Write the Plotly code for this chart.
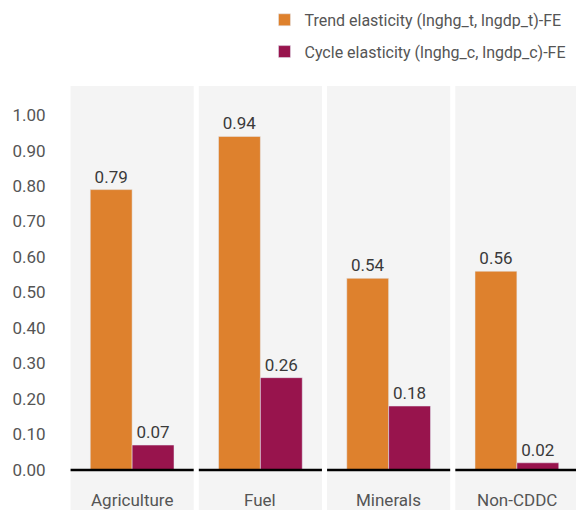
import plotly.graph_objects as go

categories = ["Agriculture", "Fuel", "Minerals", "Non-CDDC"]
trend = [0.79, 0.94, 0.54, 0.56]
cycle = [0.07, 0.26, 0.18, 0.02]
series_names = ["Trend elasticity (lnghg_t, lngdp_t)-FE", "Cycle elasticity (lnghg_c, lngdp_c)-FE"]
y_ticks = [0.0, 0.1, 0.2, 0.3, 0.4, 0.5, 0.6, 0.7, 0.8, 0.9, 1.0]

FONT = "Roboto, sans-serif"
ORANGE = "#DE812D"
PURPLE = "#98144D"

fig = go.Figure()
fig.add_trace(go.Bar(x=categories, y=trend, name=series_names[0], marker_color=ORANGE,
                     text=[f"{v:.2f}" for v in trend], textposition="outside",
                     textfont=dict(size=17, color="#3a3a3a"), cliponaxis=False,
                     legendgroup="a"))
fig.add_trace(go.Bar(x=categories, y=cycle, name=series_names[1], marker_color=PURPLE,
                     text=[f"{v:.2f}" for v in cycle], textposition="outside",
                     textfont=dict(size=17, color="#3a3a3a"), cliponaxis=False,
                     legendgroup="b"))

shapes = []
annotations = []
for i, c in enumerate(categories):
    shapes.append(dict(type="rect", xref="x", yref="y", x0=i - 0.48, x1=i + 0.48,
                       y0=-0.2, y1=1.2, fillcolor="#F4F4F4", line_width=0, layer="below"))
    shapes.append(dict(type="line", xref="x", yref="y", x0=i - 0.48, x1=i + 0.48,
                       y0=0, y1=0, line=dict(color="black", width=2.5), layer="above"))
    annotations.append(dict(x=c, y=-0.085, xref="x", yref="y", text=c, showarrow=False,
                            font=dict(size=17, color="#555555", family=FONT)))

fig.update_layout(
    width=576, height=502,
    margin=dict(l=60, r=3, t=78, b=0, autoexpand=False),
    paper_bgcolor="white", plot_bgcolor="white",
    font=dict(family=FONT, size=17, color="#555555"),
    barmode="group", bargap=0.347, bargroupgap=0,
    shapes=shapes, annotations=annotations,
    showlegend=True,
    legend=dict(x=0.383, y=1.196, xanchor="left", yanchor="top",
                font=dict(size=16, color="#555555", family=FONT),
                tracegroupgap=8, bgcolor="rgba(0,0,0,0)"),
    xaxis=dict(showticklabels=False, showgrid=False, zeroline=False, showline=False,
               range=[-0.5, 3.5]),
    yaxis=dict(range=[-0.113, 1.082], tickvals=y_ticks,
               ticktext=[f"{v:.2f}" for v in y_ticks],
               showgrid=False, zeroline=False, showline=False,
               ticks="outside", ticklen=18, tickcolor="rgba(0,0,0,0)",
               tickfont=dict(size=17, color="#555555")),
)

fig.write_html("out.html")
